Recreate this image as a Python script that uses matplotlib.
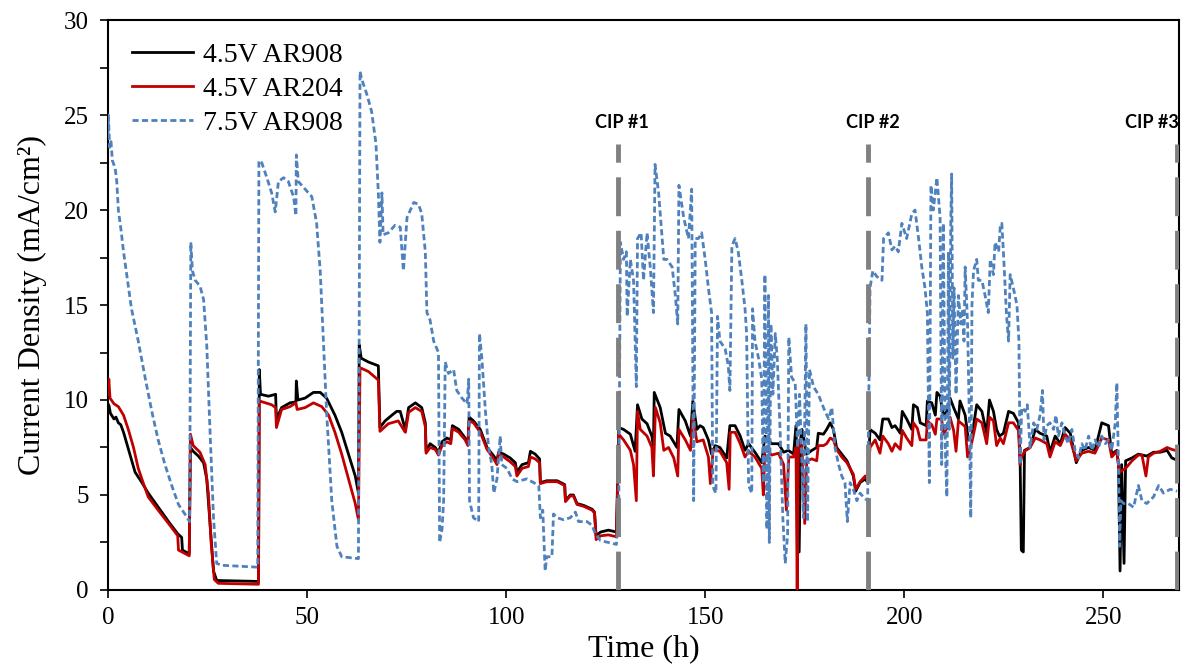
import numpy as np
import matplotlib
matplotlib.use('Agg')
import matplotlib.pyplot as plt

# ---------------------------------
# Data: (time in h, current density in mA/cm2)
# ---------------------------------

black_pts = [
    (0, 9.8), (0.25, 9.7), (0.6, 9.3), (0.9, 9.2), (1.5, 9.0), (2.0, 9.1), (2.6, 8.8),
    (3.2, 8.7), (3.9, 8.3), (5.5, 7.15), (6.8, 6.2), (8.5, 5.66), (10.1, 5.1), (12.6, 4.36),
    (15.2, 3.6), (17.5, 2.96), (18.5, 2.77), (18.7, 2.1), (20.4, 1.9), (20.7, 7.5),
    (21.4, 7.3), (22.7, 7.05), (24.0, 6.7), (24.8, 5.85), (25.6, 3.6), (26.5, 1.0),
    (27.3, 0.5), (37.8, 0.45), (38.0, 11.6), (38.3, 10.3), (40.3, 10.2), (42.1, 10.3),
    (42.3, 9.0), (43.6, 9.6), (45.7, 9.85), (47.2, 9.9), (47.3, 11.0), (47.7, 10.0),
    (49.5, 10.1), (51.6, 10.4), (53.3, 10.4), (54.9, 10.1), (57.0, 9.2), (58.7, 8.3),
    (60.4, 7.15), (62.1, 6.0), (62.9, 5.1), (63.1, 12.9), (63.6, 12.2), (65.4, 12.0),
    (67.9, 11.8), (68.3, 8.55), (69.6, 8.9), (71.3, 9.2), (72.5, 9.4), (73.4, 9.4),
    (74.2, 8.8), (74.7, 8.45), (75.5, 9.6), (77.2, 9.85), (78.8, 9.6), (79.7, 8.8),
    (79.9, 7.3), (80.9, 7.7), (82.2, 7.5), (83.0, 7.25), (83.9, 7.8), (85.1, 8.0),
    (86.1, 7.9), (86.5, 8.65), (88.1, 8.45), (89.7, 8.0), (90.4, 7.7), (90.7, 9.1),
    (91.8, 8.9), (93.5, 8.45), (95.2, 7.5), (96.9, 7.05), (97.7, 6.8), (98.1, 7.25),
    (99.4, 7.15), (101.0, 6.95), (102.3, 6.7), (102.7, 6.2), (104.0, 6.6), (105.6, 6.7),
    (106.1, 7.3), (107.3, 7.15), (108.4, 6.9), (108.6, 5.65), (110.2, 5.75), (112.8, 5.75),
    (114.7, 5.55), (114.9, 4.7), (116.1, 5.0), (116.9, 5.0), (117.8, 4.55), (119.5, 4.45),
    (121.6, 4.25), (122.2, 4.1), (122.6, 2.85), (123.7, 3.05), (125.7, 3.15), (127.7, 3.05),
    (128.3, 8.55), (129.5, 8.45), (131.2, 8.2), (132.4, 7.3), (133.0, 9.75), (134.1, 9.0),
    (135.4, 8.75), (136.6, 8.1), (137.0, 7.5), (137.2, 10.4), (138.7, 9.6), (140.0, 8.25),
    (141.2, 8.1), (142.9, 7.5), (143.4, 9.5), (145.0, 8.9), (146.3, 8.1), (146.9, 9.95),
    (147.9, 8.45), (148.7, 8.65), (149.5, 8.55), (150.8, 7.9), (151.6, 7.15), (152.5, 7.6),
    (153.7, 7.5), (155.4, 6.95), (156.2, 8.65), (157.5, 8.65), (158.8, 8.1), (160.0, 7.35),
    (160.9, 7.7), (162.5, 7.25), (164.2, 6.7), (165.0, 8.1), (166.7, 7.7), (168.4, 7.7),
    (169.7, 7.25), (170.9, 7.35), (172.2, 7.15), (172.8, 8.65), (173.0, 7.0), (173.6, 2.0),
    (174.0, 8.0), (174.3, 8.45), (175.5, 7.15), (176.8, 7.35), (178.0, 7.5), (178.4, 8.25),
    (179.7, 8.2), (180.5, 8.45), (181.4, 8.8), (182.2, 8.45), (183.0, 7.5), (184.3, 7.15),
    (185.6, 6.8), (186.4, 6.4), (187.2, 6.0), (187.8, 5.2), (188.9, 5.65), (190.2, 5.85),
    (190.8, 5.65), (191.4, 8.45), (192.7, 8.25), (193.9, 7.9), (194.6, 9.0), (196.0, 9.0),
    (196.9, 8.55), (197.7, 8.65), (199.0, 8.25), (199.5, 9.4), (200.6, 9.0), (201.9, 8.45),
    (202.3, 9.75), (203.3, 9.6), (204.0, 8.8), (205.5, 8.65), (205.8, 9.95), (206.9, 9.85),
    (207.8, 9.2), (208.2, 10.4), (209.0, 10.2), (209.8, 9.2), (210.7, 9.4), (211.5, 10.1),
    (212.4, 9.6), (213.6, 9.0), (214.0, 9.95), (215.3, 9.2), (216.1, 7.9), (217.0, 8.1),
    (218.2, 9.75), (219.5, 9.4), (220.7, 8.25), (221.4, 10.0), (222.4, 9.4), (223.2, 8.45),
    (223.9, 8.1), (224.9, 8.25), (226.2, 9.4), (227.4, 9.3), (228.7, 8.8), (229.1, 6.8),
    (229.4, 2.1), (229.9, 2.0), (230.2, 7.35), (231.6, 7.5), (232.9, 8.45), (234.1, 8.25),
    (235.8, 8.1), (236.6, 7.25), (237.9, 8.1), (239.2, 7.7), (240.4, 8.55), (241.7, 8.25),
    (243.2, 6.7), (244.6, 7.35), (246.3, 7.5), (247.9, 7.35), (249.6, 8.8), (251.3, 8.65),
    (252.1, 7.15), (253.4, 7.35), (253.8, 6.6), (254.2, 1.0), (254.6, 6.6), (255.2, 1.4),
    (255.6, 6.8), (257.2, 6.95), (258.8, 7.15), (260.9, 7.05), (262.6, 7.25), (264.3, 7.25),
    (266.0, 7.35), (267.2, 6.95), (268.9, 6.8),
]

red_pts = [
    (0, 10.3), (0.2, 11.1), (0.5, 10.1), (1.5, 9.8), (2.6, 9.65), (3.9, 9.2), (5.1, 8.45),
    (6.4, 7.5), (7.6, 6.4), (8.9, 5.6), (10.1, 4.9), (12.6, 4.2), (15.2, 3.5), (17.5, 2.86),
    (17.7, 2.1), (20.4, 1.8), (20.7, 8.2), (21.4, 7.6), (23.1, 7.25), (24.4, 6.6),
    (25.2, 5.1), (25.9, 2.5), (26.7, 0.55), (27.7, 0.35), (37.8, 0.3), (38.0, 9.95),
    (41.1, 9.75), (42.1, 9.6), (42.3, 8.55), (43.6, 9.5), (45.7, 9.65), (47.2, 9.85),
    (47.5, 9.5), (49.5, 9.6), (51.6, 9.85), (53.7, 9.65), (55.4, 9.2), (57.0, 8.3),
    (58.7, 7.15), (60.4, 5.85), (62.1, 4.55), (62.9, 3.7), (63.3, 11.7), (65.4, 11.5),
    (67.9, 11.05), (68.3, 8.35), (70.4, 8.75), (72.9, 8.9), (74.5, 8.35), (74.7, 8.3),
    (75.5, 9.35), (77.2, 9.6), (78.8, 9.4), (79.7, 8.6), (79.9, 7.2), (80.9, 7.5),
    (82.2, 7.4), (83.0, 7.1), (83.9, 7.6), (85.1, 7.8), (86.1, 7.7), (86.5, 8.5),
    (88.1, 8.3), (89.7, 7.9), (90.4, 7.6), (90.7, 8.9), (91.8, 8.8), (93.5, 8.3),
    (95.2, 7.4), (96.9, 6.9), (97.7, 6.6), (98.1, 7.2), (99.4, 7.0), (101.0, 6.75),
    (102.3, 6.5), (102.7, 6.0), (104.0, 6.4), (105.6, 6.5), (106.1, 7.0), (107.3, 6.9),
    (108.4, 6.7), (108.6, 5.6), (110.2, 5.7), (112.8, 5.7), (114.7, 5.5), (114.9, 4.65),
    (116.1, 4.95), (116.9, 4.95), (117.8, 4.5), (119.5, 4.4), (121.6, 4.2), (122.2, 4.05),
    (122.6, 2.65), (123.7, 2.85), (125.7, 2.9), (127.7, 2.8), (128.3, 8.2), (129.5, 7.9),
    (131.2, 7.35), (132.0, 6.6), (132.7, 4.7), (133.0, 9.4), (133.7, 8.45), (135.4, 8.1),
    (136.6, 7.5), (137.0, 6.0), (137.5, 9.6), (138.7, 8.8), (139.6, 7.35), (140.8, 7.5),
    (142.1, 6.95), (143.1, 6.0), (143.4, 8.45), (145.0, 7.9), (146.3, 7.35), (146.9, 9.2),
    (147.9, 7.8), (149.5, 7.9), (150.8, 7.0), (151.3, 5.6), (152.0, 7.4), (153.7, 7.3),
    (155.4, 6.7), (156.0, 5.3), (156.3, 8.3), (157.5, 8.3), (158.8, 7.7), (160.0, 7.0),
    (160.9, 7.3), (162.5, 7.0), (164.2, 6.4), (164.6, 5.0), (165.0, 7.5), (166.7, 7.1),
    (168.4, 7.2), (169.7, 6.6), (170.4, 4.2), (171.0, 7.0), (172.2, 7.0), (172.8, 7.5),
    (173.1, 0.0), (173.4, 7.8), (174.3, 7.6), (175.0, 3.5), (175.5, 6.8), (176.8, 6.9),
    (178.0, 6.8), (178.4, 7.6), (179.7, 7.6), (180.5, 7.7), (181.4, 8.0), (182.2, 7.9),
    (183.0, 7.4), (184.3, 7.0), (185.6, 6.7), (186.4, 6.4), (187.2, 6.1), (187.8, 5.3),
    (188.9, 5.7), (190.2, 6.0), (190.8, 5.8), (191.4, 7.5), (192.7, 7.9), (193.9, 7.2),
    (194.6, 8.1), (196.0, 7.7), (196.9, 7.3), (197.7, 7.7), (199.0, 7.4), (199.5, 8.4),
    (200.6, 8.0), (201.9, 7.6), (202.3, 8.8), (203.3, 8.5), (204.0, 7.9), (205.5, 7.9),
    (205.8, 8.9), (206.9, 8.7), (207.8, 8.2), (208.2, 9.0), (209.4, 9.0), (209.8, 8.2),
    (210.7, 8.5), (211.5, 9.1), (212.4, 8.4), (213.0, 7.3), (213.6, 8.9), (215.3, 8.6),
    (215.9, 7.0), (217.0, 7.8), (218.2, 9.0), (219.5, 8.8), (220.7, 7.7), (221.4, 9.1),
    (222.4, 8.9), (223.2, 7.6), (224.1, 8.0), (224.9, 7.7), (226.2, 8.8), (227.4, 8.8),
    (228.7, 8.4), (229.1, 6.6), (229.5, 7.0), (230.2, 7.3), (231.6, 7.5), (232.9, 8.0),
    (234.1, 7.9), (235.8, 7.7), (236.6, 7.0), (237.9, 7.8), (239.2, 7.6), (240.4, 8.2),
    (241.7, 7.9), (243.2, 6.8), (244.6, 7.2), (246.3, 7.3), (247.9, 7.2), (249.6, 8.0),
    (251.3, 7.9), (252.1, 7.0), (253.4, 7.3), (254.0, 6.2), (255.6, 6.4), (257.2, 6.8),
    (258.8, 7.1), (259.7, 7.1), (260.7, 6.0), (261.3, 7.0), (262.6, 7.2), (264.3, 7.3),
    (266.0, 7.5), (267.2, 7.4), (268.9, 7.3),
]

blue_pts = [
    (0.0, 24.0), (0.1, 25.0), (0.4, 23.3), (0.75, 23.6), (1.1, 22.6), (1.8, 22.2),
    (2.2, 21.5), (2.6, 20.0), (3.3, 18.9), (3.9, 17.8), (4.7, 16.6), (5.9, 14.8),
    (7.6, 13.1), (9.3, 11.2), (11.0, 9.4), (12.6, 7.9), (14.3, 6.6), (16.0, 5.5),
    (17.7, 4.5), (19.3, 4.0), (20.5, 3.6), (20.8, 18.3), (21.2, 16.8), (21.9, 16.3),
    (23.1, 16.0), (24.0, 15.3), (24.8, 12.9), (25.6, 8.5), (26.5, 3.8), (27.3, 1.4),
    (28.6, 1.3), (37.6, 1.2), (37.9, 22.6), (38.6, 22.5), (39.9, 21.7), (41.1, 20.9),
    (42.0, 19.9), (42.8, 21.5), (44.1, 21.7), (45.3, 21.5), (46.6, 20.7), (47.2, 19.7),
    (47.3, 22.9), (47.8, 21.5), (49.5, 21.1), (51.2, 20.7), (52.4, 19.3), (53.3, 16.8),
    (54.1, 13.1), (54.9, 9.4), (56.2, 4.7), (57.5, 2.3), (58.7, 1.75), (62.9, 1.65),
    (63.3, 27.3), (63.7, 26.9), (65.0, 26.1), (66.2, 25.2), (67.3, 23.5), (67.9, 20.9),
    (68.3, 18.3), (68.8, 20.9), (69.1, 18.7), (70.4, 18.8), (72.1, 19.2), (73.4, 19.1),
    (74.2, 16.8), (75.1, 19.6), (76.8, 20.4), (78.0, 20.3), (78.8, 19.8), (79.7, 17.8),
    (80.1, 14.6), (80.9, 14.2), (81.8, 13.1), (82.6, 12.7), (83.0, 12.5), (83.3, 2.5),
    (83.9, 3.2), (84.3, 4.7), (84.7, 12.0), (85.5, 11.4), (86.8, 11.6), (87.6, 10.5),
    (88.9, 10.1), (90.2, 9.8), (90.6, 11.1), (90.8, 4.7), (91.8, 3.8), (93.1, 3.6),
    (93.3, 13.5), (93.9, 12.2), (94.8, 9.4), (95.6, 7.5), (96.4, 6.6), (96.9, 5.1),
    (97.7, 5.85), (98.5, 8.1), (98.9, 6.6), (100.2, 6.4), (101.5, 5.85), (102.7, 5.7),
    (105.2, 5.85), (108.2, 5.5), (108.6, 3.8), (109.2, 4.2), (109.8, 1.0), (110.2, 1.75),
    (111.5, 1.75), (111.9, 4.0), (112.8, 3.8), (114.4, 3.7), (116.1, 3.8), (117.4, 4.1),
    (118.2, 3.6), (120.3, 3.6), (121.6, 3.4), (122.4, 2.95), (123.7, 2.6), (125.7, 2.5),
    (127.7, 2.4), (128.3, 4.7), (128.7, 18.3), (129.5, 17.4), (130.2, 17.8), (130.4, 14.4),
    (131.2, 17.4), (132.0, 16.3), (132.7, 10.7), (133.0, 18.5), (133.9, 18.8), (134.5, 16.3),
    (135.4, 18.8), (136.2, 17.0), (137.0, 14.6), (137.4, 22.4), (138.3, 20.9), (139.6, 17.4),
    (140.4, 17.4), (141.7, 17.0), (142.5, 15.5), (143.1, 14.0), (143.4, 21.3), (144.6, 19.6),
    (145.8, 18.5), (146.6, 21.1), (147.1, 4.7), (147.5, 18.5), (148.3, 18.5), (149.1, 18.8),
    (150.0, 17.4), (150.8, 15.9), (151.6, 14.6), (151.9, 5.65), (152.2, 5.3), (152.7, 5.1),
    (153.1, 14.4), (153.7, 13.1), (155.0, 12.7), (155.8, 11.8), (156.2, 10.5), (156.7, 18.1),
    (157.5, 18.5), (158.3, 17.8), (159.2, 16.3), (160.0, 14.8), (160.4, 13.5), (160.9, 5.5),
    (161.7, 5.1), (161.9, 14.8), (162.5, 13.1), (163.4, 12.2), (164.2, 11.1), (164.6, 5.65),
    (165.0, 16.6), (165.5, 3.2), (165.9, 15.5), (166.1, 2.5), (166.5, 14.0), (167.0, 10.3),
    (167.6, 13.5), (168.1, 12.2), (168.8, 8.45), (169.5, 3.8), (170.1, 1.4), (170.7, 2.9),
    (171.0, 13.3), (171.7, 11.2), (172.6, 10.9), (173.2, 7.5), (173.7, 10.3), (174.3, 6.6),
    (174.7, 3.8), (175.3, 14.0), (175.7, 3.6), (176.2, 11.6), (177.2, 10.7), (178.4, 10.3),
    (179.7, 9.6), (181.0, 9.0), (181.8, 9.6), (182.6, 7.5), (183.5, 6.6), (184.3, 6.0),
    (185.1, 5.65), (185.7, 3.6), (186.4, 5.65), (187.2, 5.3), (188.1, 4.7), (188.9, 5.1),
    (189.7, 4.9), (190.8, 4.7), (191.4, 15.9), (192.1, 16.8), (193.1, 16.5), (194.4, 16.3),
    (194.8, 18.5), (196.0, 18.8), (196.9, 17.9), (197.7, 18.1), (198.5, 17.8), (199.4, 19.3),
    (200.6, 18.5), (201.9, 19.8), (202.7, 20.0), (203.6, 18.5), (204.4, 17.0), (205.2, 15.9),
    (205.8, 14.6), (206.3, 5.65), (206.7, 21.3), (207.3, 20.0), (208.2, 21.7), (209.0, 19.6),
    (209.4, 6.6), (209.8, 19.3), (210.3, 7.5), (210.7, 4.9), (211.1, 17.8), (211.3, 8.45),
    (211.7, 19.6), (211.9, 21.9), (212.2, 12.2), (212.5, 15.9), (213.0, 10.3), (213.6, 15.5),
    (214.2, 14.0), (214.7, 14.8), (215.0, 13.1), (215.3, 17.0), (215.9, 14.0), (216.4, 8.45),
    (216.7, 3.8), (217.0, 15.0), (217.4, 16.8), (218.2, 17.4), (218.6, 16.3), (219.5, 16.3),
    (220.3, 15.5), (221.1, 14.6), (221.6, 17.4), (222.4, 16.6), (222.8, 18.3), (223.7, 17.8),
    (224.1, 19.1), (224.5, 19.3), (224.9, 17.8), (225.7, 14.4), (226.2, 13.1), (226.6, 16.6),
    (227.4, 15.9), (228.3, 15.0), (228.8, 13.1), (229.1, 6.6), (229.5, 9.6), (230.4, 9.4),
    (230.9, 9.75), (231.6, 7.5), (232.5, 8.8), (233.3, 8.45), (234.1, 9.2), (234.7, 10.5),
    (235.1, 7.9), (235.8, 8.65), (236.6, 8.8), (237.5, 8.45), (238.1, 9.2), (238.7, 8.1),
    (239.6, 8.8), (240.4, 8.1), (241.2, 7.7), (242.1, 8.45), (242.9, 7.35), (243.8, 6.95),
    (244.6, 7.7), (245.4, 7.35), (246.3, 8.1), (247.1, 7.35), (247.9, 7.9), (248.8, 7.5),
    (249.6, 8.1), (250.5, 7.7), (251.3, 7.9), (252.1, 7.35), (253.0, 8.8), (253.4, 10.9),
    (253.8, 6.6), (254.1, 2.3), (254.4, 4.7), (255.1, 4.55), (256.3, 4.55), (257.6, 4.35),
    (258.8, 5.5), (259.7, 4.7), (260.9, 4.55), (262.6, 4.9), (263.9, 5.5), (265.1, 5.1),
    (266.8, 5.3), (268.5, 5.2),
]

series_labels = ['4.5V AR908', '4.5V AR204', '7.5V AR908']
cip_times = [128.0, 191.0, 268.6]
cip_labels = ['CIP #1', 'CIP #2', 'CIP #3']

t_black, j_black = np.array(black_pts).T
t_red, j_red = np.array(red_pts).T
t_blue, j_blue = np.array(blue_pts).T

plt.rcParams['font.family'] = ['Liberation Serif', 'DejaVu Serif']

fig = plt.figure(figsize=(11.83, 6.68), dpi=100)
ax = fig.add_axes([0.0913, 0.1168, 0.9053, 0.8532])

ax.plot(t_black, j_black, color='black', lw=2.0, label=series_labels[0], zorder=3)
ax.plot(t_red, j_red, color='#C00000', lw=2.0, label=series_labels[1], zorder=4)
ax.plot(t_blue, j_blue, color='#4F81BD', lw=2.0, ls=(0, (2.2, 1.2)),
        label=series_labels[2], zorder=5)

# CIP markers
for tc, lab in zip(cip_times, cip_labels):
    ax.plot([tc, tc], [0, 23.5], color='#808080', lw=3.5, ls=(0, (8, 3)), zorder=6,
            solid_capstyle='butt')
    ha = 'right' if tc > 260 else 'center'
    ax.text(tc + (0.3 if ha == 'right' else 1.1), 24.6, lab, ha=ha, va='center',
            fontsize=13, fontweight='bold', family=['Lato', 'DejaVu Sans'])

ax.set_xlim(0, 269)
ax.set_ylim(0, 30)
ax.set_xticks(np.arange(0, 251, 50))
ax.set_yticks(np.arange(0, 31, 5))
ax.set_yticks(np.arange(0, 30.1, 2.5), minor=True)
ax.tick_params(axis='both', which='major', direction='out', length=6, width=1.2,
               labelsize=18)
ax.tick_params(axis='y', which='major', pad=8)
ax.tick_params(axis='x', which='major', pad=6)
ax.tick_params(axis='y', which='minor', direction='out', length=6, width=1.2)
for s in ax.spines.values():
    s.set_linewidth(1.5)

ax.set_xlabel('Time (h)', fontsize=23, labelpad=4)
ax.set_ylabel('Current Density (mA/cm²)', fontsize=23, labelpad=12)

ax.legend(loc='upper left', frameon=False, fontsize=20, handlelength=2.2,
          handletextpad=0.35, labelspacing=0.3, borderaxespad=0.0,
          bbox_to_anchor=(0.012, 0.98))

fig.savefig('out.png', dpi=100)
